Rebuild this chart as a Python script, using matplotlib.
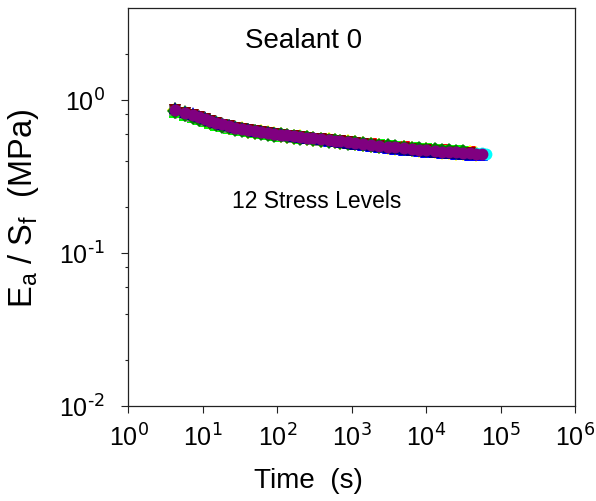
import numpy as np
import matplotlib
matplotlib.use("Agg")
import matplotlib.pyplot as plt
from matplotlib.ticker import LogLocator, NullLocator, NullFormatter, FuncFormatter

plt.rcParams['font.family'] = ['Liberation Sans', 'DejaVu Sans']
plt.rcParams['mathtext.default'] = 'regular'

# creep time (s), shared by all stress levels
time = [4.2, 5.7, 7.3, 8.8, 10.5, 12.5, 15, 18, 22, 27,
        33, 40, 50, 60, 75, 90, 110, 135, 165, 200,
        250, 300, 380, 490, 590, 690, 890, 1100, 1400, 1800,
        2300, 3000, 3800, 5000, 6300, 8000, 10000, 13000, 16000, 20000,
        25000, 31000, 38000, 46000, 55000, 62000]

# Ea/Sf (MPa) for the 12 stress levels
lvl1 = [0.835, 0.795, 0.767, 0.745, 0.726, 0.707, 0.689, 0.673, 0.656, 0.642,
        0.630, 0.621, 0.611, 0.604, 0.596, 0.589, 0.583, 0.576, 0.570, 0.565,
        0.559, 0.554, 0.548, 0.542, 0.538, 0.534, 0.528, 0.522, 0.517, 0.511,
        0.505, 0.499, 0.494, 0.489, 0.485, 0.481, 0.477, 0.473, 0.469, 0.466,
        0.463, 0.460, 0.457]
lvl2 = [0.845, 0.805, 0.777, 0.755, 0.735, 0.716, 0.697, 0.680, 0.663, 0.648,
        0.636, 0.626, 0.616, 0.608, 0.600, 0.592, 0.585, 0.578, 0.572, 0.566,
        0.560, 0.554, 0.548, 0.541, 0.537, 0.533, 0.527, 0.521, 0.515, 0.509,
        0.503, 0.497, 0.492, 0.487, 0.483, 0.479, 0.475, 0.471, 0.467, 0.464,
        0.461, 0.458, 0.455]
lvl3 = [0.832, 0.793, 0.765, 0.743, 0.724, 0.705, 0.687, 0.671, 0.655, 0.641,
        0.629, 0.620, 0.611, 0.603, 0.595, 0.588, 0.582, 0.576, 0.570, 0.565,
        0.559, 0.553, 0.547, 0.541, 0.536, 0.532, 0.526, 0.520, 0.514, 0.508,
        0.502, 0.496, 0.490, 0.485, 0.481, 0.477, 0.473, 0.469, 0.465, 0.462,
        0.459, 0.456]
lvl4 = [0.850, 0.812, 0.783, 0.759, 0.739, 0.719, 0.700, 0.683, 0.665, 0.650,
        0.638, 0.628, 0.618, 0.610, 0.601, 0.594, 0.587, 0.580, 0.574, 0.568,
        0.561, 0.555, 0.548, 0.541, 0.536, 0.532, 0.525, 0.518, 0.512, 0.505,
        0.498, 0.492, 0.486, 0.480, 0.475, 0.470, 0.466, 0.461, 0.457, 0.454,
        0.451, 0.448, 0.445, 0.442]
lvl5 = [0.885, 0.845, 0.812, 0.786, 0.764, 0.743, 0.722, 0.703, 0.684, 0.668,
        0.654, 0.643, 0.632, 0.623, 0.613, 0.604, 0.596, 0.588, 0.581, 0.574,
        0.566, 0.559, 0.550, 0.540, 0.535, 0.529, 0.520, 0.512, 0.505, 0.497,
        0.490, 0.483, 0.477, 0.471, 0.466, 0.461, 0.456, 0.452, 0.448, 0.445,
        0.442, 0.439, 0.437, 0.434, 0.432]
lvl6 = [0.855, 0.816, 0.786, 0.762, 0.742, 0.722, 0.702, 0.685, 0.667, 0.652,
        0.640, 0.630, 0.620, 0.612, 0.603, 0.595, 0.588, 0.581, 0.575, 0.569,
        0.562, 0.556, 0.549, 0.542, 0.537, 0.532, 0.525, 0.518, 0.512, 0.505,
        0.499, 0.492, 0.486, 0.480, 0.475, 0.470, 0.466, 0.461, 0.457, 0.454,
        0.451, 0.448, 0.445, 0.442]
lvl7 = [0.868, 0.826, 0.795, 0.770, 0.750, 0.729, 0.709, 0.692, 0.674, 0.659,
        0.646, 0.636, 0.626, 0.618, 0.609, 0.601, 0.594, 0.587, 0.581, 0.575,
        0.568, 0.562, 0.555, 0.548, 0.543, 0.538, 0.531, 0.524, 0.518, 0.511,
        0.504, 0.497, 0.491, 0.485, 0.480, 0.475, 0.471, 0.466, 0.462, 0.459,
        0.456, 0.453, 0.450, 0.447, 0.445, 0.443]
lvl8 = [0.852, 0.814, 0.785, 0.761, 0.741, 0.721, 0.701, 0.684, 0.666, 0.651,
        0.639, 0.629, 0.619, 0.611, 0.602, 0.594, 0.587, 0.580, 0.574, 0.568,
        0.561, 0.555, 0.548, 0.541, 0.536, 0.531, 0.524, 0.517, 0.511, 0.504,
        0.497, 0.490, 0.484, 0.478, 0.473, 0.468, 0.464, 0.459, 0.455, 0.452,
        0.449]
lvl9 = [0.857, 0.818, 0.788, 0.764, 0.744, 0.724, 0.704, 0.687, 0.669, 0.654,
        0.641, 0.631, 0.621, 0.613, 0.604, 0.596, 0.589, 0.582, 0.576, 0.570,
        0.563, 0.557, 0.550, 0.543, 0.538, 0.533, 0.526, 0.519, 0.513, 0.506,
        0.499, 0.492, 0.486, 0.480, 0.475, 0.470, 0.466, 0.461, 0.457, 0.454,
        0.451, 0.448, 0.445]
lvl10 = [0.840, 0.801, 0.773, 0.751, 0.731, 0.712, 0.693, 0.677, 0.660, 0.646,
         0.634, 0.624, 0.614, 0.606, 0.598, 0.590, 0.583, 0.577, 0.571, 0.565,
         0.559, 0.553, 0.546, 0.540, 0.536, 0.531, 0.524, 0.518, 0.512, 0.506,
         0.500, 0.494, 0.488, 0.483, 0.478, 0.474, 0.470, 0.466, 0.462, 0.459,
         0.456, 0.453]
lvl11 = [0.875, 0.834, 0.802, 0.777, 0.756, 0.735, 0.715, 0.697, 0.678, 0.663,
         0.649, 0.638, 0.628, 0.619, 0.610, 0.601, 0.593, 0.586, 0.579, 0.573,
         0.565, 0.558, 0.551, 0.543, 0.538, 0.532, 0.524, 0.516, 0.509, 0.502,
         0.495, 0.488, 0.482, 0.476, 0.471, 0.466, 0.462, 0.457, 0.453, 0.450,
         0.447, 0.444, 0.441, 0.438]
lvl12 = [0.860, 0.820, 0.790, 0.765, 0.745, 0.725, 0.705, 0.688, 0.670, 0.655,
         0.642, 0.632, 0.622, 0.614, 0.605, 0.597, 0.590, 0.583, 0.577, 0.571,
         0.564, 0.558, 0.551, 0.544, 0.539, 0.534, 0.527, 0.520, 0.514, 0.507,
         0.500, 0.493, 0.487, 0.481, 0.476, 0.471, 0.467, 0.462, 0.458, 0.455,
         0.452, 0.449, 0.446, 0.443, 0.440]

levels = [lvl1, lvl2, lvl3, lvl4, lvl5, lvl6, lvl7, lvl8, lvl9, lvl10, lvl11, lvl12]
colors = ['black', 'red', '#00ff00', 'yellow', 'blue', 'magenta', 'cyan',
          'gray', '#800000', '#008000', '#000080', '#800080']
markers = ['o', 'v', 's', 'D', '^', 'h', 'o', 's', 'v', 'D', '^', 'o']


def pow10(v, pos):
    e = int(round(np.log10(v)))
    return r'$10^{\text{%d}}$' % e


fig = plt.figure(figsize=(5.96, 5.02), dpi=100)
ax = fig.add_axes([0.2156, 0.1898, 0.75, 0.7917])

for vals, c, m in zip(levels, colors, markers):
    ax.plot(time[:len(vals)], vals, linestyle='none', marker=m, color=c,
            markersize=8.5, markeredgewidth=0)

ax.set_xscale('log')
ax.set_yscale('log')
ax.set_xlim(1, 1e6)
ax.set_ylim(0.01, 3.95)

ax.xaxis.set_major_locator(LogLocator(base=10, numticks=10))
ax.xaxis.set_minor_locator(NullLocator())
ax.yaxis.set_major_locator(LogLocator(base=10, numticks=10))
ax.yaxis.set_minor_locator(LogLocator(base=10, subs=(2, 4, 6, 8), numticks=10))
ax.yaxis.set_minor_formatter(NullFormatter())
ax.xaxis.set_major_formatter(FuncFormatter(pow10))
ax.yaxis.set_major_formatter(FuncFormatter(pow10))

ax.tick_params(which='major', direction='out', length=5, width=0.8,
               labelsize=18, pad=8, color='#222222')
ax.tick_params(axis='y', which='major', pad=12)
ax.tick_params(which='minor', direction='out', length=2.5, width=0.8,
               color='#222222')
for sp in ax.spines.values():
    sp.set_linewidth(0.9)
    sp.set_color('#222222')

ax.set_xlabel('Time  (s)', fontsize=20)
ax.xaxis.set_label_coords(0.4016, -0.155)
ax.set_ylabel(r'E$_a$ / S$_f$  (MPa)', fontsize=23.5)
ax.yaxis.set_label_coords(-0.195, 0.5)

ax.text(0.3915, 0.920, 'Sealant 0', transform=ax.transAxes,
        ha='center', va='center', fontsize=20)
ax.text(0.4217, 0.5176, '12 Stress Levels', transform=ax.transAxes,
        ha='center', va='center', fontsize=16.5)

fig.savefig('out.png', dpi=100)
